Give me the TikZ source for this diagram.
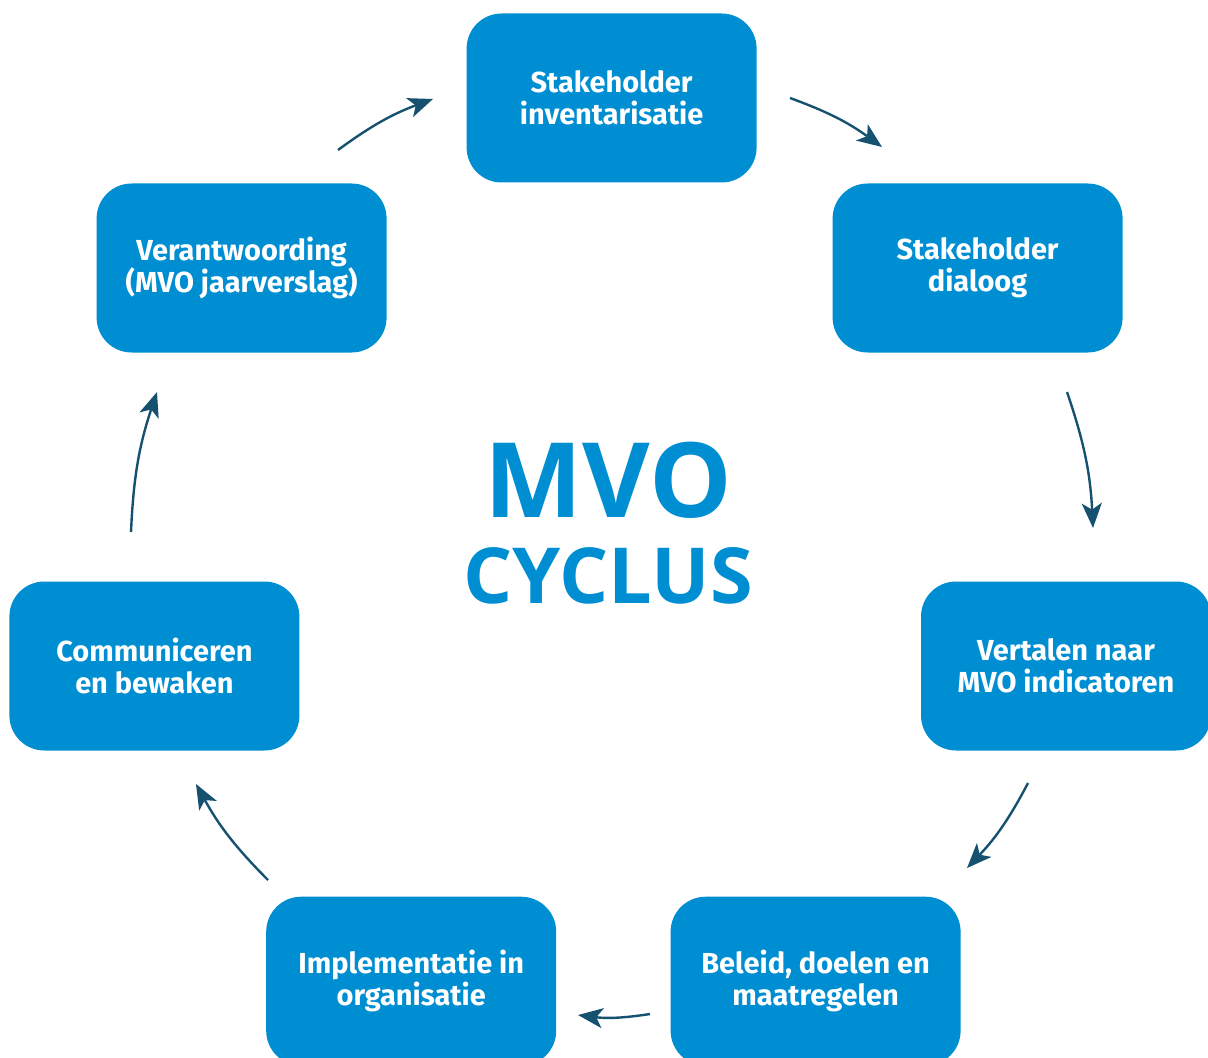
\documentclass[tikz,border=0pt]{standalone}
\usepackage{fontspec}
\usepackage{tikz}
\usepackage{xcolor}
\usetikzlibrary{positioning,arrows.meta}

\newfontfamily\boxfont{Fira Sans}
\newfontfamily\titlefont{Open Sans}

\definecolor{mvo-blue}{RGB}{0,142,211}
\definecolor{mvo-arrow}{RGB}{22,82,112}

\begin{document}
\begin{tikzpicture}
[
box-a/.style={rectangle, rounded corners=8.75mm, fill=mvo-blue, minimum width=72.5mm, minimum height=42.25mm, align=center, text=white, font=\boxfont\bfseries\fontsize{20.6}{22.7}\selectfont},
text-a/.style={text=mvo-blue, font=\titlefont\bfseries},
arrow-a/.style={-{Stealth[length=6.2mm, width=5mm, inset=1.6mm]}, line width=0.6mm, draw=mvo-arrow}
]

\useasboundingbox (0,0) rectangle (30.2,-26.45);

\node (box-1) [box-a] at (15.29,-2.45)  {Stakeholder\\inventarisatie};
\node (box-2) [box-a] at (24.44,-6.70)  {Stakeholder\\dialoog};
\node (box-3) [box-a] at (26.65,-16.65) {Vertalen naar\\MVO indicatoren};
\node (box-4) [box-a] at (20.39,-24.53) {Beleid, doelen en\\maatregelen};
\node (box-5) [box-a] at (10.28,-24.53) {Implementatie in\\organisatie};
\node (box-6) [box-a] at (3.86,-16.65)  {Communiceren\\en bewaken};
\node (box-7) [box-a] at (6.04,-6.70)   {Verantwoording\\(MVO jaarverslag)};

\node (mvo)    [text-a, font=\titlefont\bfseries\fontsize{74}{74}\selectfont] at (15.2,-12.0) {MVO};
\node (cyclus) [text-a, font=\titlefont\bfseries\fontsize{55}{55}\selectfont] at (15.2,-14.4) {CYCLUS};

% arrow ends
\coordinate (arr-1-s) at (19.75,-2.45);
\coordinate (arr-1-e) at (22.05,-3.675);
\coordinate (arr-2-s) at (26.675,-9.8);
\coordinate (arr-2-e) at (27.325,-13.2);
\coordinate (arr-3-s) at (25.7,-19.575);
\coordinate (arr-3-e) at (24.175,-21.7);
\coordinate (arr-4-s) at (16.25,-25.35);
\coordinate (arr-4-e) at (14.45,-25.375);
\coordinate (arr-5-s) at (6.7,-22.0);
\coordinate (arr-5-e) at (4.9,-19.6);
\coordinate (arr-6-s) at (3.275,-13.3);
\coordinate (arr-6-e) at (3.925,-9.8);
\coordinate (arr-7-s) at (8.45,-3.75);
\coordinate (arr-7-e) at (10.825,-2.475);

\foreach \i in {1,...,7}
  \draw [arrow-a] (arr-\i-s) to[bend left=8] (arr-\i-e);

\end{tikzpicture}
\end{document}
